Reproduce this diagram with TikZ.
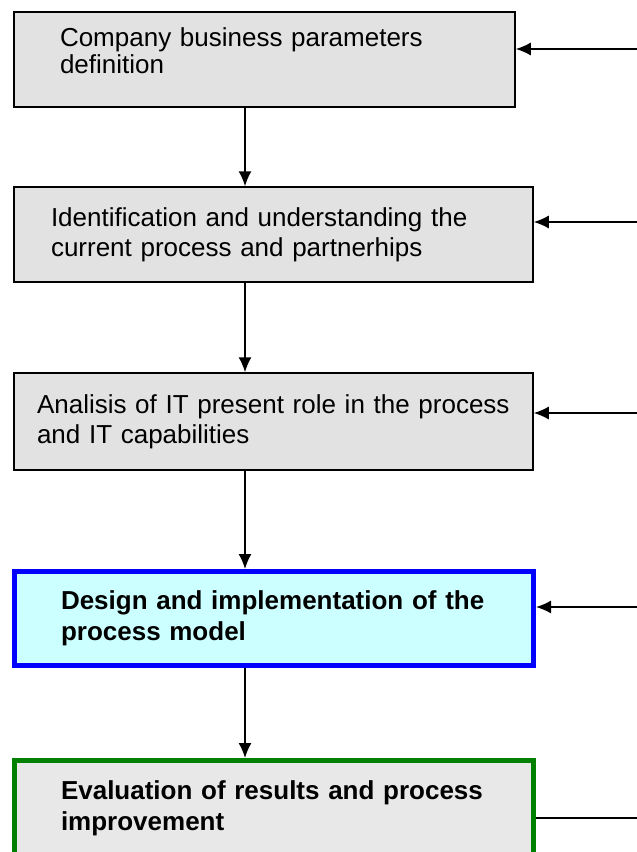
\documentclass[tikz,border=0pt]{standalone}
\usepackage{fontspec}
\setmainfont{Liberation Sans}
\usetikzlibrary{arrows.meta}
\definecolor{marble}{RGB}{226,226,226}
\definecolor{paleCyan}{RGB}{204,255,255}
\definecolor{paleGray}{RGB}{232,232,232}
\definecolor{deepGreen}{RGB}{0,128,0}

\begin{document}
\begin{tikzpicture}[x=1pt, y=-1pt,
        stage/.style={draw, line width=1.5pt, fill=marble, align=left, inner sep=0pt,
            font=\fontsize{26}{30}\selectfont},
        keystage/.style={stage, line width=5pt, font=\fontsize{26}{31}\selectfont\bfseries},
        flow/.style={-{Latex[length=15pt,width=13pt]}, line width=1.5pt}]
        \useasboundingbox (0,0) rectangle (637,852);

        \node (def) at (264.5, 59.5) [stage, font=\fontsize{26}{27}\selectfont, minimum width=501pt, minimum height=95pt, text width=409pt] {Company business parameters\\definition\rule[-18pt]{0pt}{18pt}};
        \node (ident) at (273.5, 234.5) [stage, minimum width=519pt, minimum height=95pt, text width=445pt] {Identification and understanding the\\current process and partnerhips};
        \node (anal) at (273.5, 421.5) [stage, minimum width=519pt, minimum height=97pt, text width=473pt] {Analisis of IT present role in the process\\and IT capabilities};
        \node (design) at (274, 618.5) [keystage, draw=blue, fill=paleCyan, minimum width=519pt, minimum height=94pt, text width=426pt] {Design and implementation of the\\process model};
        \node (eval) at (274, 808) [keystage, draw=deepGreen, fill=paleGray, minimum width=519pt, minimum height=95pt, text width=426pt] {Evaluation of results and process\\improvement};

        \coordinate (spine) at (245, 0);
        \coordinate (in1) at (637, 49);
        \coordinate (in2) at (637, 222);
        \coordinate (in3) at (637, 413);
        \coordinate (in4) at (637, 607);
        \coordinate (out5) at (637, 818);

        \draw[flow] (def.south -| spine) -- (ident.north -| spine);
        \draw[flow] (ident.south -| spine) -- (anal.north -| spine);
        \draw[flow] (anal.south -| spine) -- (design.north -| spine);
        \draw[flow] (design.south -| spine) -- (eval.north -| spine);

        \draw[flow] (in1) -- (in1 -| def.east);
        \draw[flow] (in2) -- (in2 -| ident.east);
        \draw[flow] (in3) -- (in3 -| anal.east);
        \draw[flow] (in4) -- (in4 -| design.east);
        \draw[line width=1.5pt] (out5 -| eval.east) -- (out5);
    \end{tikzpicture}
\end{document}
